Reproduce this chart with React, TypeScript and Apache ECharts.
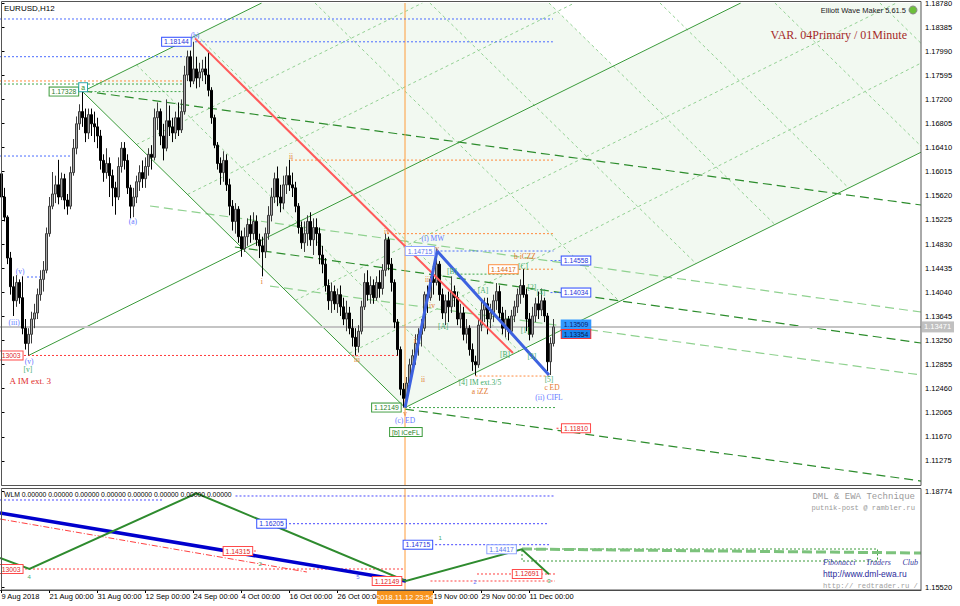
import React, { useEffect, useRef } from "react";
import * as echarts from "echarts";

// ---------------- axes ----------------
const priceMin = 1.1088;
const priceMax = 1.1878;
const priceStep = 0.00395;
const wlmMin = 1.1552;
const wlmMax = 1.18774;
const slotCount = 307;
const currentPrice = 1.13471;
const cursorIdx = 134.5;
const cursorLabel = "2018.11.12 23:54";
const firstOpen = 1.1598;

const tickIdx = [0, 16, 32, 48, 64, 80, 96, 112, 144, 160, 176];
const tickLabels = [
  "9 Aug 2018", "21 Aug 00:00", "31 Aug 00:00", "12 Sep 00:00", "24 Sep 00:00", "4 Oct 00:00",
  "16 Oct 00:00", "26 Oct 00:00", "19 Nov 00:00", "29 Nov 00:00", "11 Dec 00:00",
];

// ---------------- EURUSD H12 bars ----------------
const closes = [
  1.1560, 1.1527, 1.1460, 1.1413, 1.1390, 1.1420, 1.1395, 1.1345, 1.1320, 1.1335,
  1.1360, 1.1370, 1.1400, 1.1425, 1.1440, 1.1500, 1.1545, 1.1565, 1.1580, 1.1560,
  1.1590, 1.1555, 1.1545, 1.1600, 1.1640, 1.1680, 1.1700, 1.1690, 1.1665, 1.1695,
  1.1680, 1.1675, 1.1660, 1.1620, 1.1600, 1.1615, 1.1595, 1.1575, 1.1560, 1.1610,
  1.1640, 1.1620, 1.1575, 1.1545, 1.1560, 1.1585, 1.1600, 1.1590, 1.1610, 1.1630,
  1.1625, 1.1690, 1.1700, 1.1660, 1.1640, 1.1685, 1.1675, 1.1665, 1.1690, 1.1670,
  1.1700, 1.1760, 1.1790, 1.1750, 1.1770, 1.1755, 1.1765, 1.1770, 1.1760, 1.1735,
  1.1690, 1.1645, 1.1615, 1.1600, 1.1620, 1.1580, 1.1545, 1.1520, 1.1540, 1.1495,
  1.1475, 1.1495, 1.1515, 1.1500, 1.1520, 1.1490, 1.1480, 1.1470, 1.1500, 1.1530,
  1.1560, 1.1590, 1.1560, 1.1550, 1.1580, 1.1595, 1.1580, 1.1575, 1.1545, 1.1510,
  1.1485, 1.1500, 1.1520, 1.1490, 1.1510, 1.1500, 1.1465, 1.1450, 1.1415, 1.1390,
  1.1405, 1.1385, 1.1400, 1.1380, 1.1360, 1.1370, 1.1345, 1.1330, 1.1315, 1.1340,
  1.1380, 1.1420, 1.1400, 1.1415, 1.1395, 1.1420, 1.1410, 1.1440, 1.1490, 1.1450,
  1.1420, 1.1355, 1.1310, 1.1245, 1.1230, 1.1255, 1.1285, 1.1300, 1.1320, 1.1335,
  1.1345, 1.1400, 1.1395, 1.1425, 1.1420, 1.1450, 1.1400, 1.1370, 1.1390, 1.1380,
  1.1405, 1.1395, 1.1360, 1.1370, 1.1335, 1.1345, 1.1310, 1.1290, 1.1285, 1.1350,
  1.1375, 1.1385, 1.1360, 1.1370, 1.1390, 1.1405, 1.1370, 1.1345, 1.1360, 1.1340,
  1.1365, 1.1380, 1.1400, 1.1415, 1.1400, 1.1360, 1.1335, 1.1365, 1.1385, 1.1375,
  1.1390, 1.1365, 1.1290, 1.1320, 1.13471,
];
const highs = [
  1.1609, 1.1575, 1.1530, 1.1470, 1.1430, 1.1432, 1.1425, 1.1430, 1.1360, 1.1345,
  1.1372, 1.1385, 1.1410, 1.1440, 1.1455, 1.1510, 1.1560, 1.1601, 1.1595, 1.1621,
  1.1600, 1.1598, 1.1565, 1.1610, 1.1655, 1.1692, 1.1712, 1.17328, 1.1705, 1.1705,
  1.1705, 1.1700, 1.1690, 1.1670, 1.1630, 1.1640, 1.1625, 1.1605, 1.1585, 1.1625,
  1.1650, 1.1650, 1.1630, 1.1580, 1.1575, 1.1595, 1.1612, 1.1620, 1.1625, 1.1640,
  1.1645, 1.1705, 1.1715, 1.1705, 1.1680, 1.1720, 1.1710, 1.1690, 1.1700, 1.1715,
  1.1720, 1.1775, 1.1800, 1.1800, 1.18144, 1.1790, 1.1780, 1.1785, 1.1790, 1.1800,
  1.1740, 1.1695, 1.1650, 1.1625, 1.1635, 1.1630, 1.1590, 1.1555, 1.1550, 1.1545,
  1.1505, 1.1510, 1.1525, 1.1530, 1.1535, 1.1530, 1.1500, 1.1495, 1.1510, 1.1545,
  1.1575, 1.1600, 1.1610, 1.1580, 1.1595, 1.1610, 1.1621, 1.1600, 1.1585, 1.1550,
  1.1520, 1.1520, 1.1530, 1.1535, 1.1525, 1.1525, 1.1510, 1.1480, 1.1460, 1.1425,
  1.1420, 1.1415, 1.1410, 1.1415, 1.1395, 1.1390, 1.1380, 1.1360, 1.1345, 1.1350,
  1.1390, 1.1435, 1.1440, 1.1430, 1.1425, 1.1430, 1.1440, 1.1450, 1.1500, 1.1495,
  1.1460, 1.1425, 1.1360, 1.1315, 1.1255, 1.1265, 1.1295, 1.1310, 1.1335, 1.1345,
  1.1360, 1.1405, 1.1415, 1.1430, 1.1440, 1.14715, 1.1455, 1.1410, 1.1400, 1.1405,
  1.1430, 1.1415, 1.1405, 1.1385, 1.1380, 1.1360, 1.1350, 1.1320, 1.1300, 1.1360,
  1.1390, 1.1395, 1.1395, 1.1385, 1.1400, 1.1419, 1.1415, 1.1380, 1.1375, 1.1365,
  1.1375, 1.1390, 1.1410, 1.1425, 1.14417, 1.1410, 1.1370, 1.1380, 1.1395, 1.1405,
  1.1410, 1.1395, 1.1370, 1.1330, 1.1360,
];
const lows = [
  1.1550, 1.1520, 1.1450, 1.1400, 1.1365, 1.1380, 1.1385, 1.1335, 1.1310, 1.13003,
  1.1320, 1.1345, 1.1360, 1.1390, 1.1405, 1.1435, 1.1495, 1.1540, 1.1550, 1.1548,
  1.1555, 1.1540, 1.1531, 1.1540, 1.1595, 1.1630, 1.1670, 1.1675, 1.1650, 1.1655,
  1.1660, 1.1650, 1.1640, 1.1605, 1.1585, 1.1590, 1.1560, 1.1545, 1.1531, 1.1555,
  1.1600, 1.1605, 1.1565, 1.1525, 1.1527, 1.1550, 1.1570, 1.1575, 1.1575, 1.1595,
  1.1605, 1.1620, 1.1670, 1.1645, 1.1620, 1.1635, 1.1660, 1.1650, 1.1655, 1.1660,
  1.1665, 1.1695, 1.1750, 1.1740, 1.1745, 1.1738, 1.1740, 1.1750, 1.1745, 1.1725,
  1.1680, 1.1640, 1.1605, 1.1580, 1.1585, 1.1570, 1.1530, 1.1505, 1.1500, 1.1485,
  1.1462, 1.1470, 1.1480, 1.1485, 1.1490, 1.1480, 1.1460, 1.1430, 1.1460, 1.1490,
  1.1520, 1.1550, 1.1545, 1.1535, 1.1540, 1.1565, 1.1570, 1.1560, 1.1535, 1.1500,
  1.1475, 1.1470, 1.1480, 1.1480, 1.1465, 1.1480, 1.1450, 1.1435, 1.1405, 1.1375,
  1.1370, 1.1375, 1.1370, 1.1365, 1.1350, 1.1340, 1.1335, 1.1315, 1.13003, 1.1305,
  1.1335, 1.1375, 1.1390, 1.1385, 1.1385, 1.1390, 1.1395, 1.1400, 1.1430, 1.1440,
  1.1405, 1.1345, 1.1300, 1.1235, 1.12149, 1.1220, 1.1250, 1.1270, 1.1285, 1.1300,
  1.1315, 1.1340, 1.1370, 1.1390, 1.1400, 1.1415, 1.1390, 1.1360, 1.1350, 1.1355,
  1.1370, 1.1380, 1.1350, 1.1345, 1.1325, 1.1320, 1.1300, 1.1275, 1.12674, 1.1280,
  1.1340, 1.1355, 1.1335, 1.1345, 1.1355, 1.1375, 1.1360, 1.1335, 1.1330, 1.1325,
  1.1335, 1.1355, 1.1370, 1.1385, 1.1395, 1.1340, 1.1325, 1.1330, 1.1355, 1.1360,
  1.1365, 1.1355, 1.1275, 1.12683, 1.1315,
];

// ---------------- Elliott wave construction (bar index, price) ----------------
const channelZone = [[27, 1.17328], [86.7, 1.1878], [306.5, 1.1878], [306.5, 1.16334], [134.5, 1.12149]];
const whiteZone = [[182.5, 1.1878], [246.4, 1.1878], [204, 1.17744]];
const channelLines = [
  [[9, 1.13003], [246.4, 1.1878]],
  [[27, 1.17328], [86.7, 1.1878]],
  [[134.5, 1.12149], [306.5, 1.16334]],
  [[27, 1.17328], [134.5, 1.12149]],
];
const fanLines = [
  [[104.5, 1.1878], [206, 1.13889]],
  [[142.8, 1.1878], [231.5, 1.14509]],
  [[182.5, 1.1878], [257.8, 1.15149]],
  [[219.5, 1.1878], [282.4, 1.15747]],
  [[257.8, 1.1878], [306.5, 1.16434]],
  [[292.8, 1.1878], [306.5, 1.1812]],
  [[45, 1.17766], [152.5, 1.12587]],
  [[65, 1.18253], [172.5, 1.13074]],
  [[45, 1.16461], [140.3, 1.1878]],
  [[62, 1.15642], [191, 1.1878]],
  [[98, 1.13907], [298.3, 1.1878]],
  [[116, 1.1304], [306.5, 1.17795]],
];
const darkDashLines = [
  [[27.2, 1.17338], [306.5, 1.15469]],
  [[77.8, 1.14781], [306.5, 1.13207]],
  [[134.5, 1.12125], [306.5, 1.10945]],
];
const lightDashLines = [
  [[49.5, 1.15453], [306.5, 1.13715]],
  [[89.5, 1.14141], [306.5, 1.12683]],
];
const redTrend = [[64.5, 1.182], [170.5, 1.13043]];
const blueWave = [[134.5, 1.12149], [145.2, 1.14715], [182.5, 1.12683]];

// levels: [price, fromIdx, toIdx]
const blueLevels = [
  [1.18518, -0.5, 183.8], [1.18144, 64.5, 183.8], [1.179, -0.5, 61], [1.16272, -0.5, 23],
  [1.14289, 8.5, 13], [1.14715, 145, 184], [1.14558, 183, 186.8], [1.14034, 183, 186.8],
];
const orangeLevels = [
  [1.17502, -0.5, 61], [1.16205, 96.5, 184], [1.15, 128.5, 184.5], [1.14417, 172.5, 184.5], [1.12666, 158, 183],
];
const greenLevels = [[1.17452, -0.5, 61], [1.17328, 27, 61], [1.14336, 153, 173], [1.12149, 134.5, 184.5]];
const redLevels = [[1.13003, -0.5, 134], [1.1181, 185, 187]];

// price tags: [idx, price, text, kind]
const mainTags = [
  [58.3, 1.18144, "1.18144", "blue"],
  [20.8, 1.17328, "1.17328", "green"],
  [27.2, 1.174, "a", "teal"],
  [3.2, 1.13003, "13003", "red"],
  [139.5, 1.14715, "1.14715", "lightblue"],
  [167.3, 1.14417, "1.14417", "orange"],
  [128.3, 1.12149, "1.12149", "green"],
  [191.5, 1.14558, "1.14558", "blue"],
  [191.5, 1.14034, "1.14034", "blue"],
  [191.5, 1.13509, "1.13509", "fillBlue"],
  [191.5, 1.13354, "1.13354", "fillBlueRed"],
  [191.5, 1.1181, "1.11810", "red"],
  [134.8, 1.11748, "[b] iCeFL", "green"],
];
// wave labels: [idx, price, text, kind]
const waveLabels = [
  [6.2, 1.14387, "(v)", "blue"], [4.2, 1.13551, "(iii)", "blue"], [9.2, 1.12912, "(v)", "blue"],
  [8.8, 1.12781, "[v]", "green"], [43.8, 1.15191, "(a)", "blue"], [64.5, 1.1824, "(b)", "blue"],
  [86.8, 1.14223, "i", "orange"], [96.5, 1.16256, "ii", "orange"], [118.5, 1.12929, "iii", "orange"],
  [128.5, 1.15043, "iv", "orange"], [145.2, 1.14764, "v", "orange"], [142.2, 1.14256, "iii", "orange"],
  [143.5, 1.1383, "iv", "orange"], [137.8, 1.13256, "i", "orange"], [140.5, 1.12601, "ii", "orange"],
  [134.5, 1.1206, "v", "orange"], [143.8, 1.14928, "(i) MW", "blue"], [174.5, 1.14633, "b iCZZ", "orange"],
  [147.2, 1.13485, "[A]", "green"], [150.2, 1.14387, "[B]", "green"], [160.5, 1.14076, "[A]", "green"],
  [167.8, 1.13027, "[B]", "green"], [173.8, 1.14469, "[C]", "green"], [176.8, 1.14109, "[2]", "green"],
  [179.8, 1.14027, "[4]", "green"], [174.5, 1.1342, "[1]", "green"], [176.8, 1.12978, "[3]", "green"],
  [182.5, 1.12601, "[5]", "green"], [159.5, 1.12568, "[4] IM ext.3/5", "green"],
  [159.5, 1.1242, "a iZZ", "orange"], [183.5, 1.1247, "c ED", "orange"], [182.5, 1.12322, "(ii) CIFL", "blue"],
  [134.5, 1.11929, "(c) ED", "blue"],
];
const bigLabels = [[9.6, 1.12584, "A IM ext. 3", "red"]];

// ---------------- WLM indicator panel ----------------
const wlmZigzag = [[-0.5, 1.16503], [9.3, 1.1613], [65, 1.18696], [134.8, 1.15723], [173.4, 1.16798], [182.5, 1.1595]];
const wlmBlue = [[-0.5, 1.18028], [134.8, 1.15723]];
const wlmRed = [[-0.5, 1.17825], [101.8, 1.16028]];
const wlmBlueLevels = [[1.18469, -0.5, 54], [1.18605, 78, 184], [1.17666, 94.5, 182.5], [1.16954, 143.2, 182.5]];
const wlmRedLevels = [[1.1613, 6.5, 134], [1.15723, 143, 184.5], [1.15961, 158.5, 184.5], [1.1674, 82.8, 85.5]];
const wlmProjection = [[173.5, 1.16808], [306.5, 1.16672]];
const wlmBox = [[173.5, 1.16808], [292, 1.16808], [292, 1.16401], [173.5, 1.16401], [173.5, 1.16808]];
const wlmTags = [
  [90, 1.17666, "1.16205", "blue"], [138.8, 1.16954, "1.14715", "blue"], [166.7, 1.16798, "1.14417", "lightblue"],
  [78.8, 1.1674, "1.14315", "red"], [3.2, 1.1613, "13003", "red"], [128.5, 1.15723, "1.12149", "red"],
  [175.2, 1.15961, "1.12691", "red"],
];
const wlmMarks = [
  [9.2, 1.15859, "4", "green"], [86.2, 1.163, "2", "green"], [118.8, 1.15859, "5", "blue"],
  [146.2, 1.17181, "1", "green"], [157.8, 1.15689, "2", "blue"], [182.5, 1.15723, "3", "green"],
];

// ---------------- styles ----------------
const tagStyles: Record<string, any> = {
  blue: { fill: "#1f35d8", border: "#3552ff", bg: "#ffffff" },
  lightblue: { fill: "#5a76ee", border: "#8fa3ff", bg: "#ffffff" },
  green: { fill: "#2a7f2a", border: "#3a9a3a", bg: "#ffffff" },
  teal: { fill: "#2c8f2c", border: "#2aa6a6", bg: "#ffffff" },
  red: { fill: "#e01e1e", border: "#ff4a4a", bg: "#ffffff" },
  orange: { fill: "#d8640c", border: "#ff8a3d", bg: "#ffffff" },
  fillBlue: { fill: "#0a2470", border: "#3399ff", bg: "#3399ff" },
  fillBlueRed: { fill: "#061a55", border: "#ff3030", bg: "#1b86f0" },
};
const waveColors: Record<string, string> = { blue: "#6478ff", orange: "#e2782e", green: "#42ad6a", red: "#e02c2c" };
const SANS = "Liberation Sans";
const SERIF = "Liberation Serif";
const MONO = "Liberation Mono";

function segs(list: number[][][], xA: number, yA: number, color: string, width: number, type: any, z: number, clip = true) {
  return {
    type: "lines", coordinateSystem: "cartesian2d", xAxisIndex: xA, yAxisIndex: yA, polyline: true,
    silent: true, z, clip, animation: false,
    lineStyle: { color, width, type, opacity: 1, curveness: 0 },
    data: list.map((c) => ({ coords: c })),
  };
}
function levels(list: number[][], xA: number, yA: number, color: string, z: number) {
  return segs(list.map((l) => [[l[1], l[0]], [l[2], l[0]]]), xA, yA, color, 1, [2, 2], z);
}
function tagSeries(tags: any[], xA: number, yA: number) {
  return {
    type: "custom", xAxisIndex: xA, yAxisIndex: yA, z: 20, silent: true, animation: false,
    data: tags.map((t) => [t[0], t[1]]),
    renderItem: (params: any, api: any) => {
      const t = tags[params.dataIndex];
      const p = api.coord([t[0], t[1]]);
      const s = tagStyles[t[3]];
      return {
        type: "text", x: p[0], y: p[1],
        style: {
          text: t[2], fill: s.fill, backgroundColor: s.bg, borderColor: s.border, borderWidth: 1,
          padding: [1, 2, 0, 2], fontSize: 6.8, fontFamily: SANS,
          align: "center", verticalAlign: "middle", textAlign: "center", textVerticalAlign: "middle",
        },
      };
    },
  };
}
function labelSeries(labels: any[], xA: number, yA: number, size: number, family: string) {
  return {
    type: "custom", xAxisIndex: xA, yAxisIndex: yA, z: 20, silent: true, animation: false,
    data: labels.map((t) => [t[0], t[1]]),
    renderItem: (params: any, api: any) => {
      const t = labels[params.dataIndex];
      const p = api.coord([t[0], t[1]]);
      return {
        type: "text", x: p[0], y: p[1],
        style: {
          text: t[2], fill: waveColors[t[3]], fontSize: size, fontFamily: family,
          align: "center", verticalAlign: "middle", textAlign: "center", textVerticalAlign: "middle",
        },
      };
    },
  };
}

function buildOption() {
  const candles = closes.map((c, i) => {
    const o = i === 0 ? firstOpen : closes[i - 1];
    return [o, c, Math.min(lows[i], o, c), Math.max(highs[i], o, c)];
  });
  const cats = Array.from({ length: slotCount }, (_, i) => String(i));
  const showTick = (i: number) => tickIdx.indexOf(i) >= 0;
  const axisFont = { fontSize: 7.5, fontFamily: SANS, color: "#000" };
  return {
    animation: false,
    backgroundColor: "#ffffff",
    textStyle: { fontFamily: SANS },
    grid: [
      { left: 0, top: 3, width: 921, height: 482, outerBoundsMode: "none", containLabel: false },
      { left: 0, top: 491, width: 921, height: 96, outerBoundsMode: "none", containLabel: false },
    ],
    xAxis: [
      { type: "category", gridIndex: 0, data: cats, show: false, boundaryGap: true },
      { type: "value", gridIndex: 0, min: -0.5, max: slotCount - 0.5, show: false },
      {
        type: "category", gridIndex: 1, data: cats, boundaryGap: true, position: "bottom", offset: 3,
        axisLine: { show: true, lineStyle: { color: "#404040" } },
        axisTick: { show: true, interval: showTick, alignWithLabel: true, length: 3, lineStyle: { color: "#000" } },
        axisLabel: {
          ...axisFont, interval: showTick, align: "left", margin: 2, hideOverlap: false,
          formatter: (_v: string, i: number) => tickLabels[tickIdx.indexOf(i)] ?? "",
        },
        splitLine: { show: false },
      },
      { type: "value", gridIndex: 1, min: -0.5, max: slotCount - 0.5, show: false },
    ],
    yAxis: [
      {
        type: "value", gridIndex: 0, position: "right", min: priceMin, max: priceMax, interval: priceStep,
        splitLine: { show: false },
        axisLine: { show: true, lineStyle: { color: "#000" } },
        axisTick: { show: true, length: 3, lineStyle: { color: "#000" } },
        axisLabel: { ...axisFont, margin: 4, showMinLabel: false, formatter: (v: number) => v.toFixed(5) },
      },
      {
        type: "value", gridIndex: 1, position: "right", min: wlmMin, max: wlmMax, interval: wlmMax - wlmMin,
        splitLine: { show: false },
        axisLine: { show: true, lineStyle: { color: "#000" } },
        axisTick: { show: true, length: 3, lineStyle: { color: "#000" } },
        axisLabel: { ...axisFont, margin: 4, formatter: (v: number) => v.toFixed(5) },
      },
    ],
    series: [
      {
        type: "custom", xAxisIndex: 1, yAxisIndex: 0, z: 0, silent: true, data: [[0, 1.15]],
        renderItem: (_p: any, api: any) => ({
          type: "group",
          children: [
            { type: "polygon", shape: { points: channelZone.map((p) => api.coord(p)) }, style: { fill: "#f2f9f1" } },
            { type: "polygon", shape: { points: whiteZone.map((p) => api.coord(p)) }, style: { fill: "#ffffff" } },
          ],
        }),
      },
      segs(fanLines, 1, 0, "#93d093", 1, [3, 3], 1),
      segs(lightDashLines, 1, 0, "#8fd18f", 1.2, [9, 5], 1),
      segs(darkDashLines, 1, 0, "#2c8c2c", 1.2, [9, 5], 1),
      segs(channelLines, 1, 0, "#3a9a3a", 1, "solid", 1),
      segs([[[-0.5, currentPrice], [slotCount - 0.5, currentPrice]]], 1, 0, "#c4c4c4", 2, "solid", 1),
      segs([[[cursorIdx, priceMax], [cursorIdx, priceMin]]], 1, 0, "#ff9c3a", 1, "solid", 3),
      levels(blueLevels, 1, 0, "#4a6cff", 3),
      levels(orangeLevels, 1, 0, "#ff8a3d", 3),
      levels(greenLevels, 1, 0, "#3fa64a", 3),
      levels(redLevels, 1, 0, "#ff3b3b", 3),
      {
        type: "candlestick", xAxisIndex: 0, yAxisIndex: 0, barWidth: 2, z: 4, silent: true,
        itemStyle: { color: "#a6a6a6", color0: "#000000", borderColor: "#3a3a3a", borderColor0: "#000000", borderWidth: 1 },
        data: candles,
      },
      segs([redTrend], 1, 0, "#ff5a5a", 2, "solid", 6),
      segs([blueWave], 1, 0, "#3d62e0", 3, "solid", 6),
      tagSeries(mainTags, 1, 0),
      labelSeries(waveLabels, 1, 0, 7.5, SERIF),
      labelSeries(bigLabels, 1, 0, 9, SERIF),
      // WLM panel
      levels(wlmBlueLevels, 3, 1, "#4848ff", 2),
      levels(wlmRedLevels, 3, 1, "#ff4040", 2),
      segs([wlmBox], 3, 1, "#3a9a3a", 1, [2, 2], 2),
      segs([wlmProjection], 3, 1, "#7cc27c", 3, [10, 4], 3),
      segs([wlmRed], 3, 1, "#ff4040", 1, [6, 2, 1, 2], 3),
      segs([wlmBlue], 3, 1, "#0000cd", 3.5, "solid", 4),
      segs([wlmZigzag], 3, 1, "#2e8b2e", 2, "solid", 5),
      segs([[[cursorIdx, wlmMax + 0.001], [cursorIdx, wlmMin - 0.001]]], 3, 1, "#ff9c3a", 1, "solid", 3, false),
      tagSeries(wlmTags, 3, 1),
      labelSeries(wlmMarks, 3, 1, 6, SANS),
    ],
  };
}

function txt(x: number, y: number, text: string, size: number, family: string, fill: string, align = "left", extra: any = {}) {
  return {
    type: "text", x, y, z: 100, silent: true,
    style: {
      text, fill, fontSize: size, fontFamily: family, align, textAlign: align,
      verticalAlign: "middle", textVerticalAlign: "middle", ...extra,
    },
  };
}

function buildGraphic(xc: number, yc: number) {
  return [
    { type: "rect", z: 90, silent: true, shape: { x: 1.5, y: 1.5, width: 919.5, height: 484 }, style: { fill: "none", stroke: "#555", lineWidth: 1 } },
    { type: "rect", z: 90, silent: true, shape: { x: 1.5, y: 488.5, width: 919.5, height: 101.5 }, style: { fill: "none", stroke: "#555", lineWidth: 1 } },
    txt(4, 8, "EURUSD,H12", 8, SANS, "#000"),
    txt(906, 10, "Elliott Wave Maker 5.61.5", 7.5, SANS, "#202020", "right"),
    { type: "circle", z: 100, silent: true, shape: { cx: 913, cy: 10, r: 4 }, style: { fill: "#6cbf3a", stroke: "#8a8a8a", lineWidth: 1 } },
    txt(907, 35, "VAR. 04Primary / 01Minute", 12, SERIF, "#a52a2a", "right"),
    txt(4, 494, "WLM 0.00000 0.00000 0.00000 0.00000 0.00000 0.00000 0.00000 0.00000", 6.8, SANS, "#000"),
    txt(915, 497, "DML & EWA Technique", 9, MONO, "#9a9a9a", "right"),
    txt(915, 507.5, "putnik-post @ rambler.ru", 7.2, MONO, "#9a9a9a", "right"),
    txt(823, 562, "Fibonacci", 8, SERIF, "#3a3aa0", "left", { fontStyle: "italic" }),
    txt(866, 562, "Traders", 8, SERIF, "#3a3aa0", "left", { fontStyle: "italic" }),
    txt(918, 562, "Club", 8, SERIF, "#3a3aa0", "right", { fontStyle: "italic" }),
    txt(823, 574, "http://www.dml-ewa.ru", 8.5, SANS, "#2a2a9a"),
    txt(823, 585.5, "http:// redtrader.ru /", 7.2, MONO, "#a0a0a0"),
    { type: "rect", z: 100, silent: true, shape: { x: 922, y: yc - 5.5, width: 32, height: 11 }, style: { fill: "#c0c0c0" } },
    txt(924, yc, currentPrice.toFixed(5), 7.5, SANS, "#ffffff"),
    { type: "rect", z: 100, silent: true, shape: { x: xc - 28, y: 591, width: 56, height: 13 }, style: { fill: "#f7941d" } },
    txt(xc, 597.5, cursorLabel, 7.5, SANS, "#ffffff", "center"),
  ];
}

export default function App() {
  const ref = useRef<HTMLDivElement>(null);
  useEffect(() => {
    if (!ref.current) return;
    const chart = echarts.init(ref.current, undefined, { renderer: "svg", width: 960, height: 606 });
    chart.setOption(buildOption() as any);
    const yc = chart.convertToPixel({ yAxisIndex: 0 } as any, currentPrice) as unknown as number;
    const xc = chart.convertToPixel({ xAxisIndex: 1 } as any, cursorIdx) as unknown as number;
    chart.setOption({ graphic: buildGraphic(xc, yc) } as any);
    return () => chart.dispose();
  }, []);
  return (
    <div
      ref={ref}
      style={{ position: "fixed", left: 0, top: 0, width: 960, height: 606, background: "#fff" }}
    />
  );
}
